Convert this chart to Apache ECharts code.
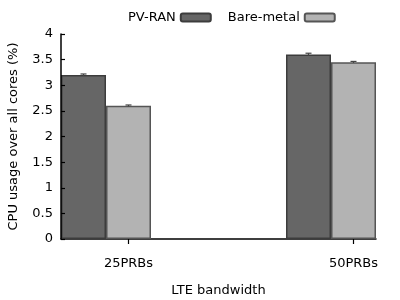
<!DOCTYPE html>
<html><head><meta charset="utf-8">
<script src="https://cdn.jsdelivr.net/npm/echarts@6/dist/echarts.min.js"></script>
<style>html,body{margin:0;padding:0;background:#fff}#c{width:400px;height:300px}</style>
</head><body><div id="c"></div>
<script>
var categories = ['25PRBs', '50PRBs'];
var pvran = [3.2, 3.6];
var bareMetal = [2.6, 3.45];
var pvranErr = [0.02, 0.025];
var bareErr = [0.015, 0.015];
var yTicks = [0, 0.5, 1, 1.5, 2, 2.5, 3, 3.5, 4];

var font = 'DejaVu Sans';
var BW = 45;
function errSeries(vals, errs, offset) {
  return {
    type: 'custom', xAxisIndex: 0, yAxisIndex: 0, z: 5,
    data: vals.map(function (v, i) { return [i, v, errs[i]]; }),
    renderItem: function (params, api) {
      var i = api.value(0), v = api.value(1), e = api.value(2);
      var top = api.coord([i, v + e]);
      var bot = api.coord([i, v - e]);
      var x = top[0] + offset;
      var st = { stroke: '#444', lineWidth: 1.2 };
      return { type: 'group', children: [
        { type: 'line', shape: { x1: x, y1: top[1], x2: x, y2: bot[1] }, style: st },
        { type: 'line', shape: { x1: x - 3, y1: top[1], x2: x + 3, y2: top[1] }, style: st }
      ]};
    }
  };
}
var chart = echarts.init(document.getElementById('c'));
chart.setOption({
  animation: false,
  textStyle: { fontFamily: font },
  legend: {
    data: ['PV-RAN', 'Bare-metal'],
    top: 6, left: 123, align: 'right',
    itemWidth: 30, itemHeight: 8, itemGap: 16,
    textStyle: { fontFamily: font, fontSize: 13, color: '#000' }
  },
  grid: [
    { left: 16, width: 450, top: 34, height: 205, outerBoundsMode: 'none', containLabel: false },
    { left: 61, width: 315, top: 34, height: 205, outerBoundsMode: 'none', containLabel: false }
  ],
  xAxis: [
    { type: 'category', gridIndex: 0, data: categories,
      axisLine: { show: false },
      axisTick: { show: true, alignWithLabel: true, length: 5, lineStyle: { color: '#000', width: 1.2 } },
      axisLabel: { color: '#000', fontSize: 13, margin: 18, fontFamily: font } },
    { type: 'value', gridIndex: 1, min: 0, max: 1,
      name: 'LTE bandwidth', nameLocation: 'middle', nameGap: 45,
      nameTextStyle: { color: '#000', fontSize: 13, fontFamily: font },
      axisLine: { show: true, lineStyle: { color: '#000', width: 1.5 } },
      axisTick: { show: false }, axisLabel: { show: false }, splitLine: { show: false } }
  ],
  yAxis: [
    { type: 'value', gridIndex: 0, min: 0, max: 4, interval: 0.5, show: false },
    { type: 'value', gridIndex: 1, min: 0, max: 4, interval: 0.5, z: 10,
      name: 'CPU usage over all cores (%)', nameLocation: 'middle', nameGap: 41,
      nameTextStyle: { color: '#000', fontSize: 13, fontFamily: font },
      axisLine: { show: true, lineStyle: { color: '#000', width: 1.5 } },
      axisTick: { show: true, inside: true, length: 4, lineStyle: { color: '#000', width: 1.2 } },
      axisLabel: { color: '#000', fontSize: 13, margin: 8, fontFamily: font,
        formatter: function (v) { return String(v); } },
      splitLine: { show: false } }
  ],
  series: [
    { name: 'PV-RAN', type: 'bar', xAxisIndex: 0, yAxisIndex: 0, data: pvran,
      barWidth: BW, barGap: '0%',
      itemStyle: { color: '#666666', borderColor: '#3c3c3c', borderWidth: 1.5 } },
    { name: 'Bare-metal', type: 'bar', xAxisIndex: 0, yAxisIndex: 0, data: bareMetal,
      barWidth: BW, barGap: '0%',
      itemStyle: { color: '#b3b3b3', borderColor: '#555555', borderWidth: 1.5 } },
    { name: 'spacer', type: 'bar', xAxisIndex: 0, yAxisIndex: 0, data: categories.map(function () { return '-'; }),
      barWidth: BW, barGap: '0%', itemStyle: { color: 'transparent' } },
    errSeries(pvran, pvranErr, -BW),
    errSeries(bareMetal, bareErr, 0)
  ]
});
</script></body></html>
